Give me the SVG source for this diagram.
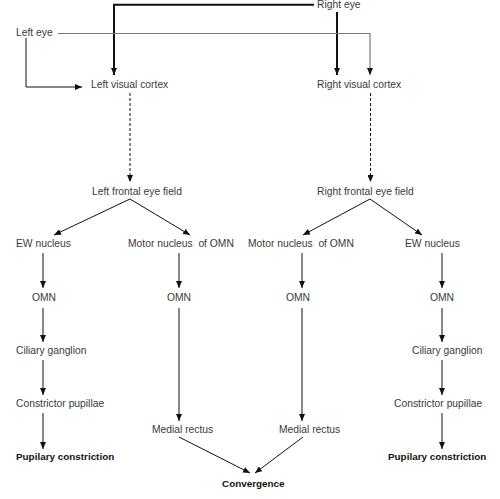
<svg xmlns="http://www.w3.org/2000/svg" width="500" height="499" viewBox="0 0 500 499">
<defs>
<style>
text{font-family:"Liberation Sans",Arial,sans-serif;font-size:10.3px;fill:#3a3a3a}
text.b{font-weight:bold;fill:#111;font-size:9.9px}
.c{fill:none;stroke:#111;stroke-width:1}
.thick{stroke-width:2}
.gray{stroke:#7a7a7a;stroke-width:1.2}
.dash{stroke-dasharray:3,2}
</style>
<marker id="ah" viewBox="0 0 7 6" refX="7" refY="3" markerWidth="7" markerHeight="6" markerUnits="userSpaceOnUse" orient="auto">
<path d="M0,0 L7,3 L0,6 z" fill="#111"/>
</marker>
</defs>
<rect width="500" height="499" fill="#fff"/>
<g id="connectors">
<path class="c thick" d="M314,4.7 H114 V75" marker-end="url(#ah)"/>
<path class="c thick" d="M337,12 V75" marker-end="url(#ah)"/>
<path class="c gray" d="M58,33.5 H370 V75" marker-end="url(#ah)"/>
<path class="c" d="M26,38 V87 H82" marker-end="url(#ah)"/>
<path class="c dash" d="M130,93 V182" marker-end="url(#ah)"/>
<path class="c dash" d="M370.5,93 V182" marker-end="url(#ah)"/>
<path class="c" d="M130,199 L54,235" marker-end="url(#ah)"/>
<path class="c" d="M130,199 L190,235" marker-end="url(#ah)"/>
<path class="c" d="M370,199 L303,235" marker-end="url(#ah)"/>
<path class="c" d="M370,199 L422,235" marker-end="url(#ah)"/>
<path class="c" d="M43,253 V288" marker-end="url(#ah)"/>
<path class="c" d="M43,308 V342" marker-end="url(#ah)"/>
<path class="c" d="M43,360 V395" marker-end="url(#ah)"/>
<path class="c" d="M43,413 V449" marker-end="url(#ah)"/>
<path class="c" d="M179,253 V288" marker-end="url(#ah)"/>
<path class="c" d="M179,308 V421" marker-end="url(#ah)"/>
<path class="c" d="M302,253 V288" marker-end="url(#ah)"/>
<path class="c" d="M302,308 V421" marker-end="url(#ah)"/>
<path class="c" d="M442,253 V288" marker-end="url(#ah)"/>
<path class="c" d="M442,308 V342" marker-end="url(#ah)"/>
<path class="c" d="M442,360 V395" marker-end="url(#ah)"/>
<path class="c" d="M442,413 V449" marker-end="url(#ah)"/>
<path class="c" d="M179,437 L250,473" marker-end="url(#ah)"/>
<path class="c" d="M303,437 L255,473" marker-end="url(#ah)"/>
</g>
<g id="right-eye"><text x="317" y="8">Right eye</text></g>
<g id="left-eye"><text x="16" y="36">Left eye</text></g>
<g id="left-visual-cortex"><text x="91" y="88">Left visual cortex</text></g>
<g id="right-visual-cortex"><text x="317" y="88">Right visual cortex</text></g>
<g id="left-frontal-eye-field"><text x="92" y="195">Left frontal eye field</text></g>
<g id="right-frontal-eye-field"><text x="317" y="195">Right frontal eye field</text></g>
<g id="left-ew-nucleus"><text x="16" y="247">EW nucleus</text></g>
<g id="left-motor-nucleus"><text x="128" y="247" xml:space="preserve">Motor nucleus  of OMN</text></g>
<g id="right-motor-nucleus"><text x="248" y="247" xml:space="preserve">Motor nucleus  of OMN</text></g>
<g id="right-ew-nucleus"><text x="405" y="247">EW nucleus</text></g>
<g id="omn-1"><text x="32" y="301">OMN</text></g>
<g id="omn-2"><text x="167" y="301">OMN</text></g>
<g id="omn-3"><text x="286" y="301">OMN</text></g>
<g id="omn-4"><text x="430" y="301">OMN</text></g>
<g id="left-ciliary-ganglion"><text x="16" y="354">Ciliary ganglion</text></g>
<g id="right-ciliary-ganglion"><text x="412" y="354">Ciliary ganglion</text></g>
<g id="left-constrictor-pupillae"><text x="16" y="407">Constrictor pupillae</text></g>
<g id="right-constrictor-pupillae"><text x="394" y="407">Constrictor pupillae</text></g>
<g id="left-medial-rectus"><text x="152" y="433">Medial rectus</text></g>
<g id="right-medial-rectus"><text x="279" y="433">Medial rectus</text></g>
<g id="left-pupilary-constriction"><text class="b" x="16" y="460">Pupilary constriction</text></g>
<g id="right-pupilary-constriction"><text class="b" x="388" y="460">Pupilary constriction</text></g>
<g id="convergence"><text class="b" x="222" y="487">Convergence</text></g>
</svg>
